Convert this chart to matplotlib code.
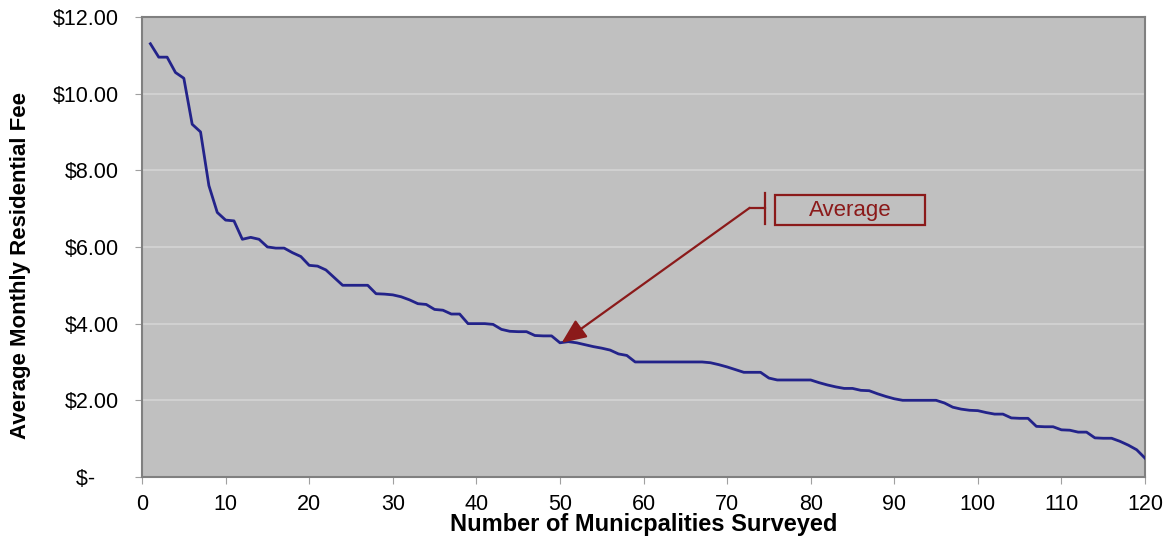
import numpy as np
import matplotlib
matplotlib.use("Agg")
import matplotlib.pyplot as plt
from matplotlib.patches import Rectangle

plt.rcParams['font.family'] = ['Liberation Sans', 'DejaVu Sans']

# monthly fee per municipality, sorted high to low
fees = [11.30, 10.95, 10.95, 10.55, 10.40, 9.20, 9.00, 7.60, 6.90, 6.70,
        6.68, 6.20, 6.25, 6.20, 6.00, 5.97, 5.97, 5.85, 5.75, 5.52,
        5.50, 5.40, 5.20, 5.00, 5.00, 5.00, 5.00, 4.78, 4.77, 4.75,
        4.70, 4.62, 4.52, 4.50, 4.37, 4.35, 4.25, 4.25, 4.00, 4.00,
        4.00, 3.98, 3.85, 3.80, 3.79, 3.79, 3.69, 3.68, 3.68, 3.50,
        3.53, 3.50, 3.45, 3.40, 3.36, 3.31, 3.21, 3.17, 3.00, 3.00,
        3.00, 3.00, 3.00, 3.00, 3.00, 3.00, 3.00, 2.98, 2.93, 2.87,
        2.80, 2.73, 2.73, 2.73, 2.58, 2.53, 2.53, 2.53, 2.53, 2.53,
        2.46, 2.40, 2.35, 2.31, 2.31, 2.26, 2.25, 2.17, 2.10, 2.04,
        2.00, 2.00, 2.00, 2.00, 2.00, 1.93, 1.82, 1.77, 1.74, 1.73,
        1.68, 1.64, 1.64, 1.54, 1.53, 1.53, 1.32, 1.31, 1.31, 1.23,
        1.22, 1.17, 1.17, 1.02, 1.01, 1.01, 0.93, 0.83, 0.71, 0.49]
municipality = np.arange(1, len(fees) + 1)

y_ticks = [0, 2, 4, 6, 8, 10, 12]
y_labels = ['$-    ', '$2.00', '$4.00', '$6.00', '$8.00', '$10.00', '$12.00']
x_ticks = list(range(0, 121, 10))

avg_label = 'Average'
avg_point = (50.2, 3.50)
avg_text_at = (84.7, 6.96)

dark_red = '#8B1A1A'

fig = plt.figure(figsize=(11.69, 5.40), dpi=100)
ax = fig.add_axes([0.1215, 0.1167, 0.858, 0.852])
ax.set_facecolor('#C0C0C0')

ax.plot(municipality, fees, color='#23238A', lw=2.0, zorder=3)

ax.set_xlim(0, 120)
ax.set_ylim(0, 12)
ax.set_yticks(y_ticks)
ax.set_yticklabels(y_labels)
ax.set_xticks(x_ticks)
ax.tick_params(labelsize=15.5, length=5, color='#A0A0A0')
ax.tick_params(axis='y', pad=11.5)
ax.tick_params(axis='x', pad=7)
ax.grid(axis='y', color='#D4D4D4', lw=1.2)
ax.set_axisbelow(True)
for s in ax.spines.values():
    s.set_color('#808080')
    s.set_linewidth(1.5)

ax.set_xlabel('Number of Municpalities Surveyed', fontsize=17, fontweight='bold', va='center')
ax.xaxis.set_label_coords(0.5, -0.103)
ax.set_ylabel('Average Monthly Residential Fee', fontsize=16, fontweight='bold', va='center')
ax.yaxis.set_label_coords(-0.1215, 0.46)

# "Average" callout
ax.add_patch(Rectangle((75.7, 6.57), 18.0, 0.78, fill=False, ec=dark_red, lw=1.6, zorder=4))
ax.text(avg_text_at[0], avg_text_at[1], avg_label, ha='center', va='center',
        fontsize=16, color=dark_red, zorder=5)
ax.plot([72.7, 74.5], [7.02, 7.02], color=dark_red, lw=1.6, zorder=4)
ax.plot([74.5, 74.5], [6.6, 7.4], color=dark_red, lw=1.6, zorder=4)
ax.annotate('', xy=avg_point, xytext=(72.7, 7.02),
            arrowprops=dict(arrowstyle='-|>,head_length=1.5,head_width=0.65',
                            color=dark_red, lw=1.6, shrinkA=0, shrinkB=0),
            zorder=5)

fig.savefig('out.png', dpi=100)
